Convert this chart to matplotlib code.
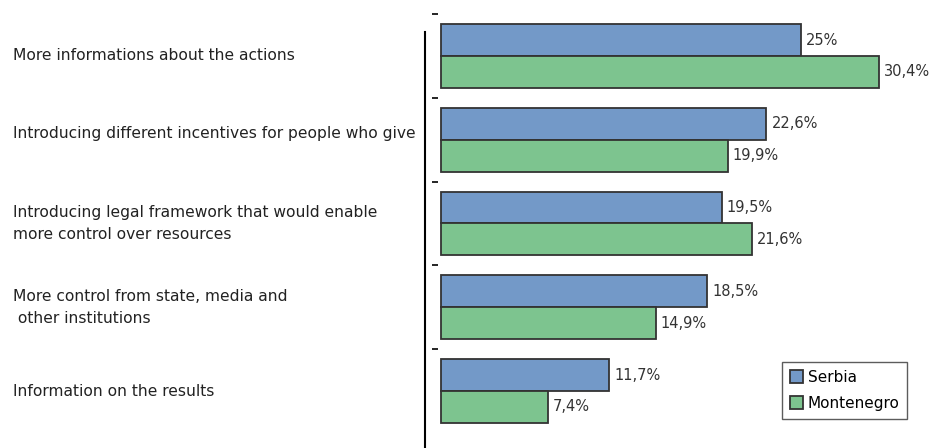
import matplotlib
matplotlib.use("Agg")
import matplotlib.pyplot as plt
import matplotlib.transforms as mtransforms
import numpy as np

# categories (top to bottom)
categories = [
    "More informations about the actions",
    "Introducing different incentives for people who give",
    "Introducing legal framework that would enable\nmore control over resources",
    "More control from state, media and\n other institutions",
    "Information on the results",
]
serbia = [25.0, 22.6, 19.5, 18.5, 11.7]
montenegro = [30.4, 19.9, 21.6, 14.9, 7.4]
serbia_labels = ["25%", "22,6%", "19,5%", "18,5%", "11,7%"]
montenegro_labels = ["30,4%", "19,9%", "21,6%", "14,9%", "7,4%"]

blue = "#7399c8"
green = "#7dc48f"
edge = "#333333"

fig = plt.figure(figsize=(9.43, 4.48), dpi=100)
ax = fig.add_axes([425 / 943, 0, 1 - 425 / 943, 1])

y = np.arange(len(categories))
h = 0.38
ax.barh(y - h / 2, serbia, height=h, color=blue, edgecolor=edge, linewidth=1.3, label="Serbia")
ax.barh(y + h / 2, montenegro, height=h, color=green, edgecolor=edge, linewidth=1.3, label="Montenegro")

# value labels
for i in range(len(categories)):
    ax.text(serbia[i] + 0.35, y[i] - h / 2, serbia_labels[i], va="center", ha="left",
            fontsize=10.5, color="#333333")
    ax.text(montenegro[i] + 0.35, y[i] + h / 2, montenegro_labels[i], va="center", ha="left",
            fontsize=10.5, color="#333333")

x0 = -16 / 14.4
ax.set_xlim(x0, x0 + (943 - 425) / 14.4)
ax.set_ylim((448 - 56) / 83.75, -56 / 83.75)

# axis line and small dashes between groups
for s in ["top", "right", "bottom"]:
    ax.spines[s].set_visible(False)
ax.spines["left"].set_linewidth(1.5)
ax.spines["left"].set_color("black")
ax.spines["left"].set_bounds(-24 / 83.75, (448 - 56) / 83.75)
ax.set_xticks([])
ax.set_yticks([])
ax.hlines(y - 0.5, -0.625, -0.21, color="black", linewidth=1.2)

# category labels on the left
trans = mtransforms.blended_transform_factory(fig.transFigure, ax.transData)
label_shift = [0, -0.08, 0, 0, 0]
for i, cat in enumerate(categories):
    ax.text(13 / 943, y[i] + label_shift[i], cat, transform=trans, ha="left", va="center",
            fontsize=11.2, color="#222222", linespacing=1.6)

leg = ax.legend(loc="upper left", bbox_to_anchor=(782 / 943, 1 - 362 / 448),
                bbox_transform=fig.transFigure, frameon=True, fancybox=False,
                fontsize=11, handlelength=0.9, handleheight=0.9, handletextpad=0.3,
                borderpad=0.5, labelspacing=0.75, borderaxespad=0)
leg.get_frame().set_edgecolor("#333333")
leg.get_frame().set_linewidth(1.0)

plt.savefig("out.png", dpi=100)
